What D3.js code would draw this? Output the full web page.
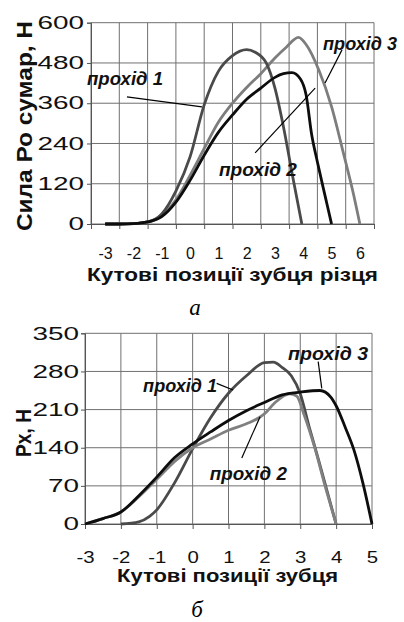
<!DOCTYPE html>
<html>
<head>
<meta charset="utf-8">
<script src="https://cdn.jsdelivr.net/npm/d3@7"></script>
<style>
  body { margin: 0; background: #fff; }
  text { font-family: "Liberation Sans", Arial, sans-serif; }
</style>
</head>
<body>
<div id="chart"></div>
<script>
// --- chart a: total force Po ---
var topCats = [-3, -2, -1, 0, 1, 2, 3, 4, 5, 6];
var topTicks = [0, 120, 240, 360, 480, 600];

var topP1x = [-3, -2.5, -2, -1.5, -1, -0.5, 0, 0.5, 1, 1.5, 2, 2.3, 2.7, 3, 3.3, 3.65, 3.95];
var topP1y = [0, 0, 1, 6, 30, 98, 200, 355, 455, 502, 520, 512, 479, 405, 290, 131, 0];

var topP2x = [-3, -2.5, -2, -1.5, -1, -0.5, 0, 0.5, 1, 1.5, 2, 2.5, 3, 3.3, 3.6, 3.9, 4.1, 4.3, 4.5, 4.7, 4.85, 5];
var topP2y = [0, 0, 1, 6, 22, 65, 130, 205, 273, 325, 372, 405, 437, 448, 451, 432, 385, 265, 185, 110, 55, 0];

var topP3x = [-3, -2.5, -2, -1.5, -1, -0.5, 0, 0.5, 1, 1.5, 2, 2.5, 3, 3.4, 3.83, 4.1, 4.55, 5, 5.42, 5.77, 6];
var topP3y = [0, 0, 1, 6, 25, 72, 145, 225, 303, 360, 407, 448, 495, 527, 556, 535, 459, 350, 211, 91, 0];

// --- chart б: force Px ---
var botCats = [-3, -2, -1, 0, 1, 2, 3, 4, 5];
var botTicks = [0, 70, 140, 210, 280, 350];

var botP1x = [-2, -1.5, -1.2, -1, -0.5, 0, 0.5, 1, 1.5, 2, 2.25, 2.5, 2.75, 3, 3.25, 3.5, 3.75, 4];
var botP1y = [0, 4, 14, 26, 76, 138, 195, 240, 272, 296, 297, 287, 272, 239, 178, 120, 60, 0];

var botP2x = [-3, -2.5, -2, -1.5, -1, -0.5, 0, 0.5, 1, 1.5, 1.85, 2, 2.3, 2.7, 2.9, 3.1, 3.4, 3.7, 4];
var botP2y = [0, 10, 22, 50, 82, 115, 140, 156, 172, 184, 195, 202, 223, 239, 235, 202, 141, 68, 0];

var botP3x = [-3, -2.5, -2, -1.5, -1, -0.5, 0, 0.5, 1, 1.5, 2, 2.5, 3, 3.55, 3.85, 4, 4.25, 4.5, 4.75, 5];
var botP3y = [0, 10, 22, 52, 86, 122, 147, 169, 190, 208, 223, 237, 242, 245, 233, 217, 178, 135, 74, 0];

var svg = d3.select("#chart").append("svg")
    .attr("width", 404)
    .attr("height", 622);

function zip(xs, ys) {
  return xs.map(function(d, i) { return [d, ys[i]]; });
}

function drawChart(cfg) {
  var x = cfg.x, y = cfg.y;
  var g = svg.append("g");
  var x0 = x.range()[0], x1 = x.range()[1];
  var y0 = y.range()[0], y1 = y.range()[1];

  // grid
  g.selectAll(".hgrid")
      .data(cfg.yTicks)
    .enter().append("line")
      .attr("x1", x0).attr("x2", x1)
      .attr("y1", function(d) { return y(d); })
      .attr("y2", function(d) { return y(d); })
      .style("stroke", "#707070").style("stroke-width", 1);
  g.selectAll(".vgrid")
      .data(cfg.gridX)
    .enter().append("line")
      .attr("x1", function(d) { return x(d); })
      .attr("x2", function(d) { return x(d); })
      .attr("y1", y0).attr("y2", y1)
      .style("stroke", "#707070").style("stroke-width", 1);

  // tick marks under x axis
  g.append("g")
      .attr("transform", "translate(0," + y0 + ")")
      .call(d3.axisBottom(x).tickValues(cfg.gridX).tickSize(5).tickFormat(""))
      .call(function(a) { a.selectAll("line,path").style("stroke", "#555"); });

  // x labels (plain hyphen for minus, as in the original)
  var xl = g.append("g")
      .attr("transform", "translate(0," + y0 + ")")
      .call(d3.axisBottom(x).tickValues(cfg.cats).tickSize(0)
        .tickFormat(function(d) { return String(d); }));
  xl.select(".domain").remove();
  xl.selectAll("text")
      .attr("y", cfg.xLabelY)
      .attr("dy", 0)
      .attr("x", 0)
      .attr("transform", "scale(" + cfg.xLabelStretch + ",1)")
      .style("font-size", cfg.xLabelSize + "px")
      .style("font-family", "'Liberation Sans', Arial, sans-serif")
      .style("fill", "#111");

  // y axis
  var ya = g.append("g")
      .attr("transform", "translate(" + x0 + ",0)")
      .call(d3.axisLeft(y).tickValues(cfg.yTicks).tickSize(4));
  ya.selectAll("line,path").style("stroke", "#555");
  ya.selectAll("text")
      .attr("x", -cfg.yLabelGap / 1.55)
      .attr("transform", "scale(1.55,1)")
      .style("font-size", "18px")
      .style("font-family", "'Liberation Sans', Arial, sans-serif")
      .style("fill", "#111");

  // lines
  var line = d3.line()
      .x(function(d) { return x(d[0]); })
      .y(function(d) { return y(d[1]); })
      .curve(d3.curveMonotoneX);
  cfg.series.forEach(function(s) {
    g.append("path")
        .datum(s.data)
        .attr("d", line)
        .style("fill", "none")
        .style("stroke", s.color)
        .style("stroke-width", 2.8)
        .style("stroke-linejoin", "round");
  });

  // labels with leader lines
  cfg.notes.forEach(function(n) {
    g.append("line")
        .attr("x1", x(n.line[0])).attr("y1", y(n.line[1]))
        .attr("x2", x(n.line[2])).attr("y2", y(n.line[3]))
        .style("stroke", "#000").style("stroke-width", 1.2);
    g.append("text")
        .attr("x", x(n.at[0]))
        .attr("y", y(n.at[1]))
        .attr("textLength", n.w)
        .attr("lengthAdjust", "spacingAndGlyphs")
        .style("font-size", "18px")
        .style("font-weight", "bold")
        .style("font-style", "italic")
        .style("fill", "#111")
        .text(n.text);
  });

  // axis titles
  svg.append("text")
      .attr("x", cfg.xTitle[0]).attr("y", cfg.xTitle[1])
      .attr("textLength", cfg.xTitle[2])
      .attr("lengthAdjust", "spacingAndGlyphs")
      .style("font-size", cfg.xTitle[3] + "px")
      .style("font-weight", "bold")
      .style("fill", "#111")
      .text(cfg.xTitleText);
  svg.append("text")
      .attr("transform", "translate(" + cfg.yTitle[0] + "," + cfg.yTitle[1] + ") rotate(-90)")
      .attr("text-anchor", "middle")
      .attr("textLength", cfg.yTitle[2])
      .attr("lengthAdjust", "spacingAndGlyphs")
      .style("font-size", cfg.yTitle[3] + "px")
      .style("font-weight", "bold")
      .style("fill", "#111")
      .text(cfg.yTitleText);
}

var xTop = d3.scaleLinear().domain([-3.5, 6.5]).range([91, 374]);
var yTop = d3.scaleLinear().domain([0, 600]).range([224, 22.7]);

drawChart({
  x: xTop, y: yTop,
  cats: topCats,
  gridX: d3.range(-3.5, 7, 1),
  yTicks: topTicks,
  xLabelY: 35, xLabelSize: 16, xLabelStretch: 1,
  yLabelGap: 7,
  series: [
    {data: zip(topP3x, topP3y), color: "#7d7d7d"},
    {data: zip(topP1x, topP1y), color: "#4a4a4a"},
    {data: zip(topP2x, topP2y), color: "#0d0d0d"}
  ],
  notes: [
    {text: "прохід 1", at: [-3.64, 414], w: 76, line: [-2.23, 379, 0.42, 349]},
    {text: "прохід 3", at: [4.7, 519], w: 74, line: [5.37, 519, 4.77, 420]},
    {text: "прохід 2", at: [1.02, 143], w: 78, line: [2.3, 212, 4.42, 405]}
  ],
  xTitleText: "Кутові позиції зубця різця",
  xTitle: [87, 281, 291, 18],
  yTitleText: "Сила Ро сумар, Н",
  yTitle: [32, 126, 210, 22]
});

var xBot = d3.scaleLinear().domain([-3, 5]).range([85, 372]);
var yBot = d3.scaleLinear().domain([0, 350]).range([524, 333.3]);

drawChart({
  x: xBot, y: yBot,
  cats: botCats,
  gridX: botCats,
  yTicks: botTicks,
  xLabelY: 39, xLabelSize: 17, xLabelStretch: 1.2,
  yLabelGap: 6,
  series: [
    {data: zip(botP1x, botP1y), color: "#4a4a4a"},
    {data: zip(botP2x, botP2y), color: "#808080"},
    {data: zip(botP3x, botP3y), color: "#0d0d0d"}
  ],
  notes: [
    {text: "прохід 3", at: [2.66, 301], w: 80, line: [3.5, 298, 3.6, 249]},
    {text: "прохід 1", at: [-1.38, 242], w: 74, line: [0.67, 258, 1.13, 246]},
    {text: "прохід 2", at: [0.48, 81], w: 77, line: [1.37, 121, 1.88, 197]}
  ],
  xTitleText: "Кутові позиції зубця",
  xTitle: [117, 582, 221, 19],
  yTitleText: "Рх, Н",
  yTitle: [31, 433, 48, 22]
});

// captions
svg.append("text")
    .attr("x", 195).attr("y", 315)
    .attr("text-anchor", "middle")
    .style("font-family", "'Liberation Serif', 'Times New Roman', serif")
    .style("font-style", "italic")
    .style("font-size", "23px")
    .text("а");
svg.append("text")
    .attr("x", 197).attr("y", 617)
    .attr("text-anchor", "middle")
    .style("font-family", "'Liberation Serif', 'Times New Roman', serif")
    .style("font-style", "italic")
    .style("font-size", "23px")
    .text("б");
</script>
</body>
</html>
